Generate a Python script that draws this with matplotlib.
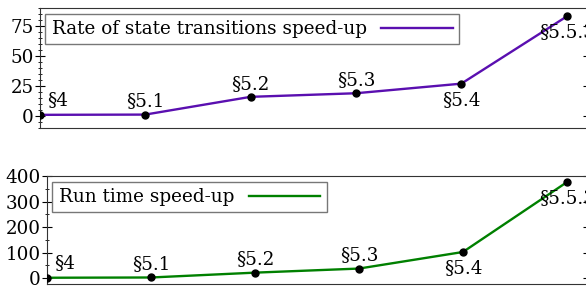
import matplotlib
matplotlib.use("Agg")
import matplotlib.pyplot as plt
from matplotlib.ticker import MultipleLocator

plt.rcParams['font.family'] = ['DejaVu Serif']
plt.rcParams['font.size'] = 13.2

sections = ["§4", "§5.1", "§5.2", "§5.3", "§5.4", "§5.5.3"]
rate_speedup = [1, 1.2, 16, 19, 27, 83]
runtime_speedup = [1, 2, 21, 37, 102, 376]
label_below = [False, False, False, False, True, True]

fig = plt.figure(figsize=(5.86, 2.89), dpi=100)
ax1 = fig.add_axes([0.068, 0.557, 0.935, 0.415])
ax2 = fig.add_axes([0.080, 0.016, 0.923, 0.375])


def draw(ax, vals, color, label, ylim, major, minor):
    x = list(range(len(vals)))
    ax.plot(x, vals, color=color, lw=1.7, label=label, zorder=2)
    ax.plot(x, vals, 'o', color='black', ms=5, zorder=3)
    for i, (s, v) in enumerate(zip(sections, vals)):
        if i == 0:
            ax.annotate(s, (i, v), xytext=(5, 4), textcoords='offset points',
                        ha='left', va='bottom')
        elif label_below[i]:
            ax.annotate(s, (i, v), xytext=(0, -5), textcoords='offset points',
                        ha='center', va='top')
        else:
            ax.annotate(s, (i, v), xytext=(0, 3), textcoords='offset points',
                        ha='center', va='bottom')
    ax.set_xlim(0, 5.2)
    ax.set_ylim(*ylim)
    ax.set_xticks([])
    ax.yaxis.set_major_locator(MultipleLocator(major))
    ax.yaxis.set_minor_locator(MultipleLocator(minor))
    ax.tick_params(axis='y', which='major', direction='inout', length=7,
                   right=True, pad=1)
    ax.tick_params(axis='y', which='minor', direction='inout', length=3, right=True)
    for sp in ax.spines.values():
        sp.set_color('#333333')
    leg = ax.legend(loc='upper left', markerfirst=False, fancybox=False,
                    handlelength=3.9, borderaxespad=0.3, framealpha=1,
                    borderpad=0.35)
    leg.get_frame().set_edgecolor('#777777')


draw(ax1, rate_speedup, '#5a0fb0', 'Rate of state transitions speed-up',
     (-10, 90), 25, 5)
draw(ax2, runtime_speedup, '#008000', 'Run time speed-up',
     (-25, 400), 100, 50)

fig.savefig('out.png', dpi=100)
